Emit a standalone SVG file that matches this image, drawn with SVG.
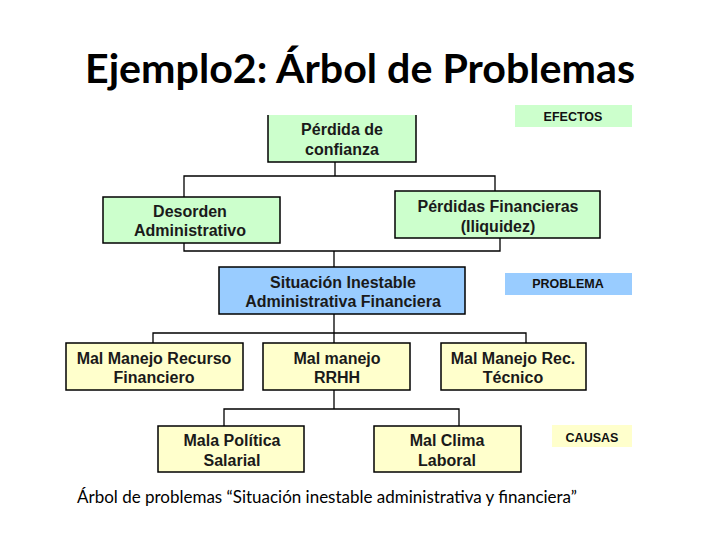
<svg xmlns="http://www.w3.org/2000/svg" width="720" height="540" viewBox="0 0 720 540">
<style>
.green{fill:#ccffcc;stroke:#000;stroke-width:1.5}
.blue{fill:#99ccff;stroke:#000;stroke-width:1.5}
.yellow{fill:#ffffcc;stroke:#000;stroke-width:1.5}
.t{font-family:"Liberation Sans",Arial,sans-serif;font-weight:bold;font-size:16px;fill:#1a1a1a;text-anchor:middle}
.lbl{font-family:"Liberation Sans",Arial,sans-serif;font-weight:bold;font-size:12.5px;fill:#111;text-anchor:middle}
.conn{fill:none;stroke:#000;stroke-width:1.3}
</style>
<rect width="720" height="540" fill="#fff"/>
<text x="360" y="83" font-family="Lato,'Open Sans',sans-serif" font-weight="bold" font-size="40" fill="#000" text-anchor="middle" textLength="550" lengthAdjust="spacingAndGlyphs">Ejemplo2: Árbol de Problemas</text>

<g id="connectors">
<path class="conn" d="M335,162 V176 M184,197 V176 H495 V191"/>
<path class="conn" d="M184,243 V251 H500 V238 M334,251 V267"/>
<path class="conn" d="M334,314 V343 M153,343 V333 H526 V343"/>
<path class="conn" d="M334,390 V409 M224,426 V409 H459 V426"/>
</g>

<g id="label-efectos">
<rect x="515" y="105" width="117" height="22" fill="#ccffcc"/>
<text class="lbl" x="573" y="121">EFECTOS</text>
</g>
<g id="label-problema">
<rect x="505" y="273" width="127" height="22" fill="#99ccff"/>
<text class="lbl" x="568" y="288">PROBLEMA</text>
</g>
<g id="label-causas">
<rect x="552" y="425" width="80" height="22" fill="#ffffcc"/>
<text class="lbl" x="592" y="442">CAUSAS</text>
</g>

<g id="perdida-confianza">
<rect x="268" y="115" width="148" height="47" fill="#ccffcc"/>
<path d="M268,115 V162 H416 V115" fill="none" stroke="#000" stroke-width="1.5"/>
<text class="t" x="342" y="135">Pérdida de</text>
<text class="t" x="342" y="155">confianza</text>
</g>

<g id="desorden">
<rect class="green" x="103" y="197" width="177" height="46"/>
<text class="t" x="190" y="217">Desorden</text>
<text class="t" x="190" y="236">Administrativo</text>
</g>

<g id="perdidas-financieras">
<rect class="green" x="395" y="191" width="205" height="47"/>
<text class="t" x="498" y="212">Pérdidas Financieras</text>
<text class="t" x="498" y="232">(Iliquidez)</text>
</g>

<g id="situacion">
<rect class="blue" x="219" y="267" width="246" height="47"/>
<text class="t" x="343" y="288">Situación Inestable</text>
<text class="t" x="343" y="307">Administrativa Financiera</text>
</g>

<g id="recurso-financiero">
<rect class="yellow" x="66" y="343" width="177" height="47"/>
<text class="t" x="154" y="364">Mal Manejo Recurso</text>
<text class="t" x="154" y="383">Financiero</text>
</g>

<g id="rrhh">
<rect class="yellow" x="263" y="343" width="147" height="47"/>
<text class="t" x="337" y="364">Mal manejo</text>
<text class="t" x="337" y="383">RRHH</text>
</g>

<g id="rec-tecnico">
<rect class="yellow" x="441" y="343" width="145" height="47"/>
<text class="t" x="513" y="364">Mal Manejo Rec.</text>
<text class="t" x="513" y="383">Técnico</text>
</g>

<g id="politica-salarial">
<rect class="yellow" x="158" y="426" width="146" height="46"/>
<text class="t" x="232" y="446">Mala Política</text>
<text class="t" x="232" y="466">Salarial</text>
</g>

<g id="clima-laboral">
<rect class="yellow" x="374" y="426" width="147" height="46"/>
<text class="t" x="447" y="446">Mal Clima</text>
<text class="t" x="447" y="466">Laboral</text>
</g>

<text x="77" y="503" font-family="Lato,'Open Sans',sans-serif" font-size="17" fill="#000" textLength="500" lengthAdjust="spacingAndGlyphs">Árbol de problemas “Situación inestable administrativa y financiera”</text>
</svg>
